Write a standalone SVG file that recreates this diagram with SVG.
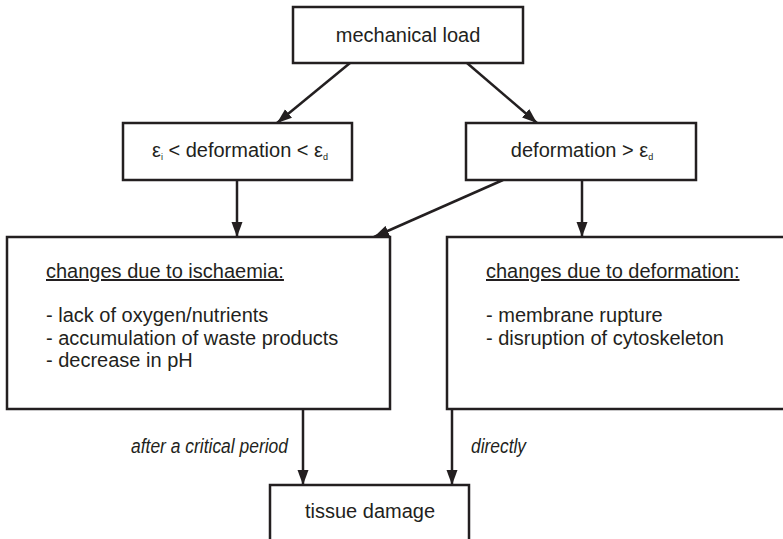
<svg xmlns="http://www.w3.org/2000/svg" width="783" height="539" viewBox="0 0 783 539">
  <style>
    .box { fill: #ffffff; stroke: #231f20; stroke-width: 2.5; }
    .lbl { font-family: "Liberation Sans", Arial, sans-serif; font-size: 20px; fill: #231f20; }
    .mid { text-anchor: middle; }
    .sub { font-size: 9px; }
    .it { font-style: italic; font-size: 19.5px; }
    .link { stroke: #231f20; stroke-width: 2.5; fill: none; marker-end: url(#head); }
  </style>
  <defs>
    <marker id="head" markerUnits="userSpaceOnUse" markerWidth="16" markerHeight="12" refX="15" refY="6" orient="auto">
      <path d="M0,0.5 L15,6 L0,11.5 Z" fill="#231f20"/>
    </marker>
  </defs>

  <rect width="783" height="539" fill="#ffffff"/>

  <g id="connectors">
    <line class="link" x1="350" y1="63" x2="277" y2="123"/>
    <line class="link" x1="467" y1="63" x2="537" y2="123"/>
    <line class="link" x1="237" y1="180" x2="237" y2="237"/>
    <line class="link" x1="503" y1="180" x2="374" y2="237"/>
    <line class="link" x1="582" y1="180" x2="582" y2="237"/>
    <line class="link" x1="303" y1="409" x2="303" y2="485"/>
    <line class="link" x1="452" y1="409" x2="452" y2="485"/>
    <text class="lbl it" x="131" y="453" textLength="157" lengthAdjust="spacingAndGlyphs">after a critical period</text>
    <text class="lbl it" x="471" y="453" textLength="55" lengthAdjust="spacingAndGlyphs">directly</text>
  </g>

  <g id="mechanical-load">
    <rect class="box" x="293" y="7" width="230" height="56"/>
    <text class="lbl mid" x="408" y="42">mechanical load</text>
  </g>

  <g id="moderate-deformation">
    <rect class="box" x="123" y="123" width="229" height="57"/>
    <text class="lbl mid" x="240" y="157">ε<tspan class="sub" dy="3">i</tspan><tspan dy="-3"> &lt; deformation &lt; ε</tspan><tspan class="sub" dy="3">d</tspan></text>
  </g>

  <g id="large-deformation">
    <rect class="box" x="466" y="123" width="230" height="57"/>
    <text class="lbl mid" x="582" y="157">deformation &gt; ε<tspan class="sub" dy="3">d</tspan></text>
  </g>

  <g id="ischaemia">
    <rect class="box" x="7" y="237" width="383" height="172"/>
    <text class="lbl" x="46" y="278" text-decoration="underline">changes due to ischaemia:</text>
    <text class="lbl" x="46" y="322">- lack of oxygen/nutrients</text>
    <text class="lbl" x="46" y="344.5">- accumulation of waste products</text>
    <text class="lbl" x="46" y="367">- decrease in pH</text>
  </g>

  <g id="deformation-effects">
    <rect class="box" x="447" y="237" width="360" height="172"/>
    <text class="lbl" x="486" y="278" text-decoration="underline">changes due to deformation:</text>
    <text class="lbl" x="486" y="322">- membrane rupture</text>
    <text class="lbl" x="486" y="344.5">- disruption of cytoskeleton</text>
  </g>

  <g id="tissue-damage">
    <rect class="box" x="270" y="485" width="199" height="80"/>
    <text class="lbl mid" x="370" y="518">tissue damage</text>
  </g>
</svg>
